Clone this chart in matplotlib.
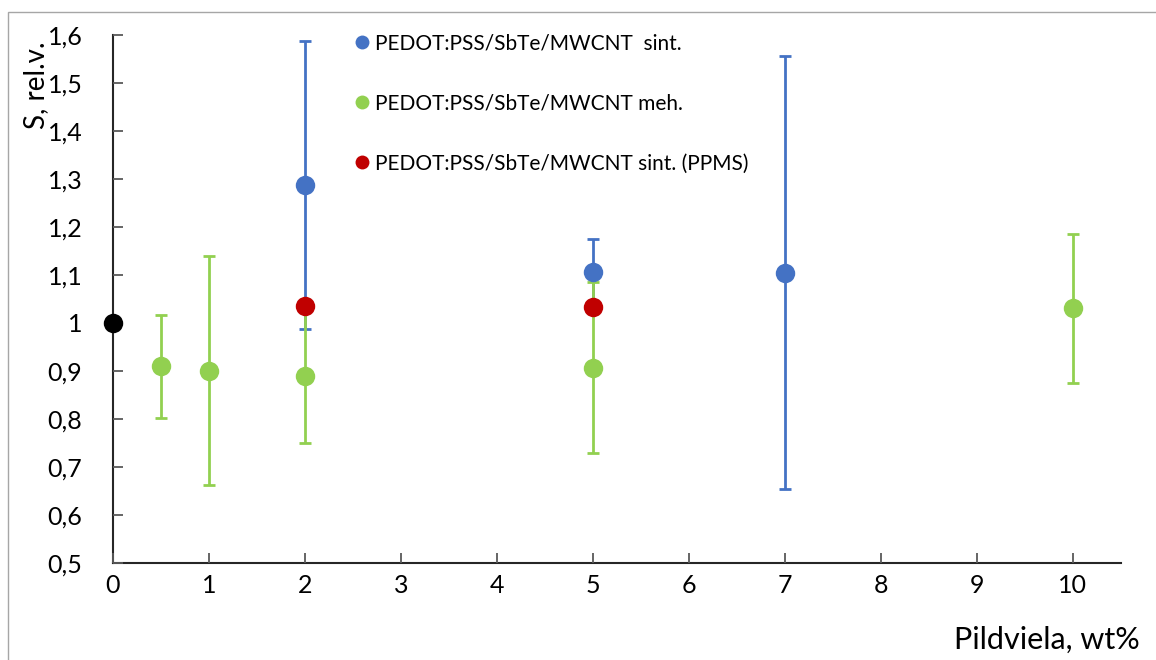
import matplotlib
matplotlib.use("Agg")
import matplotlib.pyplot as plt
from matplotlib.patches import Rectangle
from matplotlib.lines import Line2D

plt.rcParams['font.family'] = ['Lato', 'DejaVu Sans']

# Data
ref_x = [0]
ref_y = [1.0]

sint_x = [2, 5, 7]
sint_y = [1.288, 1.107, 1.105]
sint_err = [0.300, 0.067, 0.451]

meh_x = [0.5, 1, 2, 5, 10]
meh_y = [0.910, 0.901, 0.889, 0.907, 1.031]
meh_err_low = [0.108, 0.239, 0.138, 0.178, 0.155]
meh_err_high = [0.107, 0.239, 0.138, 0.178, 0.154]

ppms_x = [2, 5]
ppms_y = [1.035, 1.034]

labels = ["PEDOT:PSS/SbTe/MWCNT  sint.",
          "PEDOT:PSS/SbTe/MWCNT meh.",
          "PEDOT:PSS/SbTe/MWCNT sint. (PPMS)"]

x_ticks = list(range(0, 11))
y_ticks = [0.5, 0.6, 0.7, 0.8, 0.9, 1.0, 1.1, 1.2, 1.3, 1.4, 1.5, 1.6]
y_tick_labels = ['0,5', '0,6', '0,7', '0,8', '0,9', '1', '1,1', '1,2', '1,3', '1,4', '1,5', '1,6']

blue = '#4472C4'
green = '#92D050'
red = '#C00000'

W, H = 1156, 660
fig = plt.figure(figsize=(W / 100, H / 100), dpi=100)
fig.patches.append(Rectangle((8 / W, -0.05), 1.2, 1 - 12 / H + 0.05,
                             transform=fig.transFigure, fill=False,
                             edgecolor='#A6A6A6', linewidth=1.0))

ax = fig.add_axes([113 / W, 1 - 563 / H, (1120.7 - 113) / W, (563 - 35) / H])

ms = 14
ax.errorbar(sint_x, sint_y, yerr=sint_err, fmt='none', ecolor=blue,
            elinewidth=2.0, capsize=4.5, capthick=2.0, zorder=2)
ax.errorbar(meh_x, meh_y, yerr=[meh_err_low, meh_err_high], fmt='none', ecolor=green,
            elinewidth=2.0, capsize=4.5, capthick=2.0, zorder=3)

ax.plot(meh_x, meh_y, 'o', color=green, ms=ms, mec='none', zorder=4, clip_on=False)
ax.plot(sint_x, sint_y, 'o', color=blue, ms=ms, mec='none', zorder=5, clip_on=False)
ax.plot(ppms_x, ppms_y, 'o', color=red, ms=ms, mec='none', zorder=6, clip_on=False)
ax.plot(ref_x, ref_y, 'o', color='black', ms=ms, mec='none', zorder=7, clip_on=False)

ax.set_xlim(0, 10.5)
ax.set_ylim(0.5, 1.6)
ax.set_xticks(x_ticks)
ax.set_xticklabels([str(t) for t in x_ticks])
ax.set_yticks(y_ticks)
ax.set_yticklabels(y_tick_labels)

for s in ['top', 'right']:
    ax.spines[s].set_visible(False)
for s in ['left', 'bottom']:
    ax.spines[s].set_color('#262626')
    ax.spines[s].set_linewidth(1.5)
    ax.spines[s].set_zorder(1)

ax.tick_params(axis='both', direction='in', length=7, width=1.3, color='#595959',
               labelsize=18, labelcolor='black')
ax.tick_params(axis='x', pad=8)
ax.tick_params(axis='y', pad=22)

fig.text(36 / W, 1 - 85 / H, "S, rel.v.", rotation=90, fontsize=20,
         ha='center', va='center')
fig.text(1140 / W, 1 - 640 / H, "Pildviela, wt%", fontsize=22,
         ha='right', va='center')

handles = [Line2D([], [], marker='o', ls='none', color=c, ms=10, mec='none')
           for c in (blue, green, red)]
leg = fig.legend(handles, labels, loc='upper left',
                 bbox_to_anchor=(352 / W, 1 - 33 / H), frameon=False,
                 fontsize=15, labelspacing=1.93, handletextpad=0.1,
                 handlelength=1.0, borderpad=0, borderaxespad=0)

fig.savefig("out.png", dpi=100)
